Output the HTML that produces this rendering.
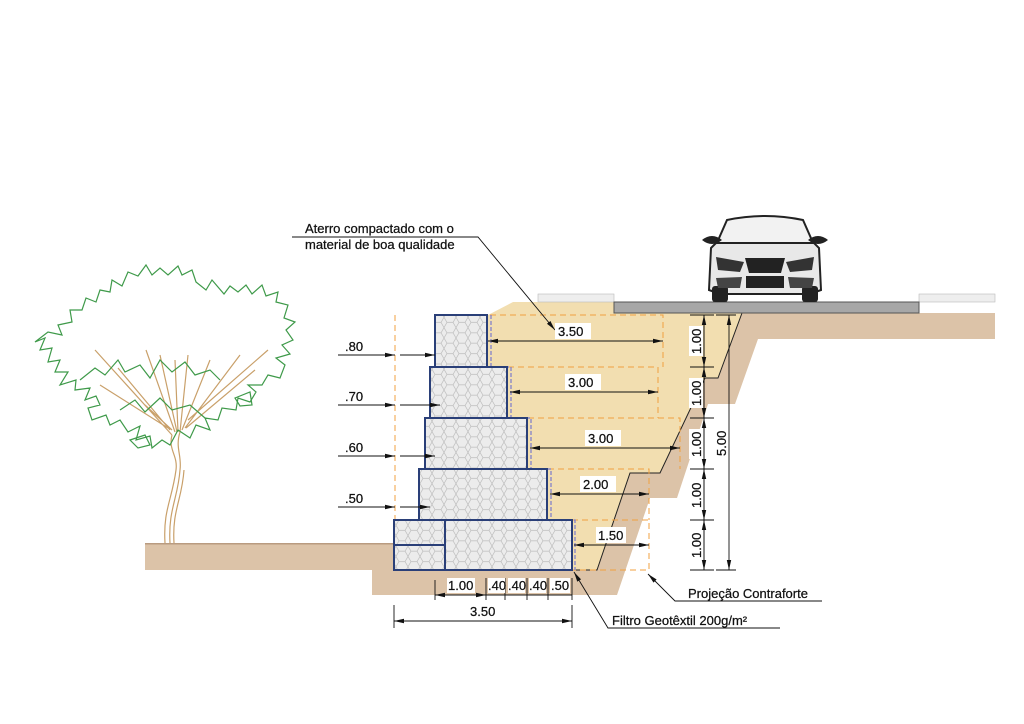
<!DOCTYPE html>
<html><head><meta charset="utf-8"><style>
html,body{margin:0;padding:0;background:#fff;}
svg{display:block;}
text{font-family:"Liberation Sans",sans-serif;font-size:13px;fill:#111;stroke:#111;stroke-width:0.25;}
</style></head><body>
<svg width="1024" height="724" viewBox="0 0 1024 724" xmlns="http://www.w3.org/2000/svg">
<defs>
<pattern id="hex" width="12" height="10.4" patternUnits="userSpaceOnUse">
<rect width="12" height="10.4" fill="#ececec"/>
<path d="M0 5.2 L3 0 L9 0 L12 5.2 L9 10.4 L3 10.4 Z" fill="none" stroke="#bdbdbd" stroke-width="0.7"/>
</pattern>
<marker id="a" markerWidth="10" markerHeight="6" refX="10" refY="3" orient="auto-start-reverse" markerUnits="userSpaceOnUse"><path d="M0 0.8 L10 3 L0 5.2Z" fill="#111"/></marker>
</defs>

<rect x="145" y="543" width="250" height="27" fill="#dcc3a8"/>
<rect x="145" y="543" width="250" height="1.5" fill="#b99b80"/>
<path d="M742 313 L995 313 L995 339 L758 339 L735 404 L708 404 L677 498 L650 498 L617 595 L372 595 L372 570 L597 570 L630 473 L660 473 L705 378 L718 378 Z" fill="#dcc3a8"/>
<path d="M488 315 L513 302 L614 302 L614 313 L742 313 L718 378 L705 378 L660 473 L630 473 L597 570 L572 570 L572 520 L548 520 L548 469 L528 469 L528 418 L508 418 L508 367 L488 367 Z" fill="#f2deb0"/>
<polyline points="742,313 718,378 705,378 660,473 630,473 597,570 572,570" fill="none" stroke="#222" stroke-width="1"/>
<rect x="538" y="294" width="76" height="8" fill="#eeeeee" stroke="#bbb" stroke-width="0.6"/>
<rect x="919" y="294" width="76" height="8" fill="#eeeeee" stroke="#bbb" stroke-width="0.6"/>
<rect x="614" y="302" width="305" height="11" fill="#a7a7a7" stroke="#555" stroke-width="1"/>

<g stroke="#f0a040" stroke-width="1" stroke-dasharray="6,4" fill="none">
<line x1="395" y1="315" x2="395" y2="570"/>
<polyline points="490,315 663,315 663,367"/>
<polyline points="508,367 658,367 658,418"/>
<polyline points="528,418 680,418 680,469"/>
<polyline points="548,469 649,469 649,520"/>
<polyline points="572,520 649,520 649,570 572,570"/>
</g>
<path d="M488 315 L488 367 L508 367 L508 418 L528 418 L528 469 L548 469 L548 520 L572 520 L572 570" fill="none" stroke="#7a7acc" stroke-width="1.2" stroke-dasharray="4,2" transform="translate(3,0)"/>

<g stroke="#2a3f78" stroke-width="2" fill="url(#hex)">
<rect x="435" y="315" width="52" height="52"/>
<rect x="430" y="367" width="77" height="51"/>
<rect x="425" y="418" width="102" height="51"/>
<rect x="419" y="469" width="128" height="51"/>
<rect x="394" y="520" width="51" height="25"/>
<rect x="394" y="545" width="51" height="25"/>
<rect x="445" y="520" width="127" height="50"/>
</g>

<g stroke="#111" stroke-width="0.9" fill="none">
<line x1="488" y1="341" x2="663" y2="341" marker-start="url(#a)" marker-end="url(#a)"/>
<line x1="510" y1="392" x2="658" y2="392" marker-start="url(#a)" marker-end="url(#a)"/>
<line x1="530" y1="448" x2="680" y2="448" marker-start="url(#a)" marker-end="url(#a)"/>
<line x1="550" y1="494" x2="649" y2="494" marker-start="url(#a)" marker-end="url(#a)"/>
<line x1="574" y1="545" x2="649" y2="545" marker-start="url(#a)" marker-end="url(#a)"/>
<line x1="338" y1="355" x2="395" y2="355" marker-end="url(#a)"/><line x1="400" y1="355" x2="435" y2="355" marker-end="url(#a)"/>
<line x1="338" y1="405" x2="395" y2="405" marker-end="url(#a)"/><line x1="400" y1="405" x2="440" y2="405" marker-end="url(#a)"/>
<line x1="338" y1="456" x2="395" y2="456" marker-end="url(#a)"/><line x1="400" y1="456" x2="435" y2="456" marker-end="url(#a)"/>
<line x1="338" y1="507" x2="395" y2="507" marker-end="url(#a)"/><line x1="400" y1="507" x2="430" y2="507" marker-end="url(#a)"/>
<line x1="435" y1="595" x2="486" y2="595" marker-start="url(#a)" marker-end="url(#a)"/>
<line x1="486" y1="595" x2="572" y2="595"/>
<line x1="435" y1="580" x2="435" y2="600"/><line x1="486" y1="578" x2="486" y2="600"/>
<line x1="505" y1="578" x2="505" y2="600"/><line x1="527" y1="578" x2="527" y2="600"/>
<line x1="548" y1="578" x2="548" y2="600"/><line x1="572" y1="578" x2="572" y2="600"/>
<line x1="394" y1="621" x2="572" y2="621" marker-start="url(#a)" marker-end="url(#a)"/>
<line x1="394" y1="605" x2="394" y2="628"/><line x1="572" y1="605" x2="572" y2="628"/>
<line x1="704" y1="315" x2="704" y2="570"/>
<line x1="704" y1="315" x2="704" y2="367" marker-start="url(#a)" marker-end="url(#a)"/>
<line x1="704" y1="367" x2="704" y2="418" marker-start="url(#a)" marker-end="url(#a)"/>
<line x1="704" y1="418" x2="704" y2="469" marker-start="url(#a)" marker-end="url(#a)"/>
<line x1="704" y1="469" x2="704" y2="520" marker-start="url(#a)" marker-end="url(#a)"/>
<line x1="704" y1="520" x2="704" y2="570" marker-start="url(#a)" marker-end="url(#a)"/>
<line x1="690" y1="315" x2="714" y2="315"/><line x1="690" y1="367" x2="714" y2="367"/>
<line x1="690" y1="418" x2="714" y2="418"/><line x1="690" y1="469" x2="714" y2="469"/>
<line x1="690" y1="520" x2="714" y2="520"/><line x1="690" y1="570" x2="714" y2="570"/>
<line x1="729" y1="315" x2="729" y2="570" marker-start="url(#a)" marker-end="url(#a)"/>
<line x1="716" y1="315" x2="736" y2="315"/><line x1="716" y1="570" x2="736" y2="570"/>
<polyline points="292,237 478,237 555,330" marker-end="url(#a)"/>
<polyline points="822,601 675,601 648,574" marker-end="url(#a)"/>
<polyline points="780,628 608,628 574,572" marker-end="url(#a)"/>
</g>

<g font-size="13">
<rect x="555" y="323" width="36" height="16" fill="#fff"/><text x="558" y="336">3.50</text>
<rect x="565" y="374" width="36" height="16" fill="#fff"/><text x="568" y="387">3.00</text>
<rect x="585" y="430" width="36" height="16" fill="#fff"/><text x="588" y="443">3.00</text>
<rect x="580" y="476" width="36" height="16" fill="#fff"/><text x="583" y="489">2.00</text>
<rect x="596" y="527" width="30" height="16" fill="#fff"/><text x="598" y="540">1.50</text>
<text x="345" y="351">.80</text><text x="345" y="401">.70</text>
<text x="345" y="452">.60</text><text x="345" y="503">.50</text>
<rect x="447" y="578" width="28" height="15" fill="#fff"/><text x="448" y="590">1.00</text>
<rect x="488" y="578" width="17" height="15" fill="#fff"/><text x="488" y="590">.40</text>
<rect x="508" y="578" width="17" height="15" fill="#fff"/><text x="508" y="590">.40</text>
<rect x="529" y="578" width="17" height="15" fill="#fff"/><text x="529" y="590">.40</text>
<rect x="550" y="578" width="20" height="15" fill="#fff"/><text x="551" y="590">.50</text>
<text x="470" y="616">3.50</text>
<g transform="translate(700,341) rotate(-90)"><rect x="-15" y="-11" width="30" height="14" fill="#fff" stroke="none"/><text x="-13" y="1">1.00</text></g>
<g transform="translate(700,393) rotate(-90)"><rect x="-15" y="-11" width="30" height="14" fill="#fff" stroke="none"/><text x="-13" y="1">1.00</text></g>
<g transform="translate(700,444) rotate(-90)"><rect x="-15" y="-11" width="30" height="14" fill="#fff" stroke="none"/><text x="-13" y="1">1.00</text></g>
<g transform="translate(700,495) rotate(-90)"><rect x="-15" y="-11" width="30" height="14" fill="#fff" stroke="none"/><text x="-13" y="1">1.00</text></g>
<g transform="translate(700,545) rotate(-90)"><rect x="-15" y="-11" width="30" height="14" fill="#fff" stroke="none"/><text x="-13" y="1">1.00</text></g>
<g transform="translate(725,443) rotate(-90)"><rect x="-15" y="-11" width="30" height="14" fill="#fff" stroke="none"/><text x="-13" y="1">5.00</text></g>
</g>
<text x="305" y="233" font-size="13.5">Aterro compactado com o</text>
<text x="305" y="249" font-size="13.5">material de boa qualidade</text>
<text x="688" y="598" font-size="13.5">Projeção Contraforte</text>
<text x="612" y="625" font-size="13.5">Filtro Geotêxtil 200g/m²</text>

<g>
<path d="M716 245 L727 220 Q765 212 803 220 L814 245 Z" fill="#f2f2f2" stroke="#222" stroke-width="2"/>
<path d="M702 240 Q712 232 722 240 Q712 248 702 240Z M808 240 Q818 232 828 240 Q818 248 808 240Z" fill="#222"/>
<path d="M711 248 L716 243 L814 243 L819 248 L821 290 L810 294 L720 294 L709 290 Z" fill="#e8e8e8" stroke="#222" stroke-width="2"/>
<rect x="712" y="286" width="16" height="16" rx="3" fill="#222"/>
<rect x="802" y="286" width="16" height="16" rx="3" fill="#222"/>
<path d="M745 258 L785 258 L781 273 L749 273Z" fill="#222"/>
<path d="M716 257 L744 262 L740 272 L718 270Z M814 257 L786 262 L790 272 L812 270Z" fill="#333"/>
<rect x="746" y="276" width="38" height="12" fill="#222"/>
<path d="M716 278 L742 277 L740 288 L718 288Z M814 278 L788 277 L790 288 L812 288Z" fill="#444"/>
</g>

<g fill="none" stroke-width="1.2">
<path d="M165 543 C163 510 172 500 176 470 C178 455 168 450 172 435 M170 543 C168 510 178 498 180 470 C182 455 175 448 180 432 M174 543 C172 510 182 500 184 470" stroke="#c9a06a"/>
<g stroke="#c9a06a">
<path d="M172 435 L95 350 M170 430 L118 368 M175 432 L146 350 M177 432 L160 355 M178 432 L175 360 M180 432 L188 355 M182 430 L210 360 M185 428 L240 355 M186 428 L255 370 M188 420 L268 350 M168 428 L100 385 M172 430 L145 405"/>
</g>
<path stroke="#3f9a4a" d="M35 342 L45 338 L40 350 L52 348 L48 362 L60 360 L55 372 L68 372 L60 385 L76 380 L75 390 L90 388 L85 400 L96 396 L100 405 L88 408 L92 420 L106 415 L110 425 L120 420 L128 432 L140 426 L136 440 L150 436 L152 448 L162 440 L170 445 L178 430 L190 438 L196 425 L210 430 L205 418 L218 420 L222 408 L236 410 L238 398 L250 402 L256 392 L248 385 L262 385 L268 375 L280 378 L285 365 L276 358 L290 354 L282 345 L293 340 L286 330 L295 322 L284 318 L288 305 L276 302 L278 292 L266 296 L262 285 L252 294 L246 285 L238 292 L230 286 L224 294 L212 280 L206 290 L196 282 L192 270 L182 275 L178 266 L168 275 L160 268 L152 275 L146 265 L138 276 L128 272 L122 286 L112 280 L110 292 L100 290 L96 302 L86 298 L82 310 L70 310 L72 322 L58 325 L62 335 L48 332 L35 342 Z"/>
<path stroke="#3f9a4a" d="M80 380 L95 368 L105 375 L118 360 L125 372 L140 365 L150 378 L160 360 L172 372 L185 362 L195 375 L210 370 L220 380 M120 410 L135 400 L145 412 L160 398 L172 410 L190 405 L205 418 M130 440 L145 435 L150 445 L138 448Z M235 398 L250 392 L252 405 L240 406Z"/>
</g>
</svg>
</body></html>
